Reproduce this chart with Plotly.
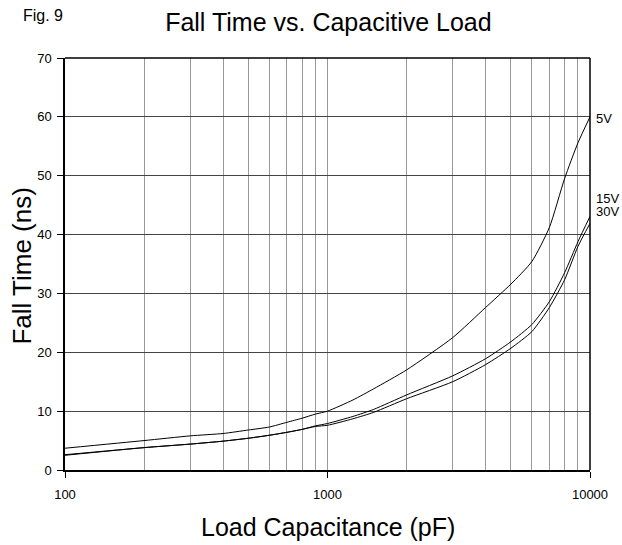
import plotly.graph_objects as go

cap_pf = [100, 200, 300, 400, 500, 600, 700, 800, 900, 1000, 1250, 1500, 2000, 3000, 4000, 5000, 6000, 7000, 8000, 9000, 10000]
fall_5v = [3.7, 5.0, 5.8, 6.2, 6.8, 7.3, 8.1, 8.8, 9.5, 10.0, 11.9, 13.8, 17.0, 22.5, 27.6, 31.6, 35.4, 41.2, 49.5, 55.6, 60.0]
fall_15v = [2.6, 3.8, 4.4, 4.9, 5.4, 5.9, 6.4, 6.9, 7.5, 7.9, 9.1, 10.3, 12.75, 16.0, 18.9, 21.8, 24.7, 28.6, 33.5, 38.8, 43.1]
fall_30v = [2.5, 3.8, 4.4, 4.9, 5.4, 5.9, 6.4, 6.9, 7.4, 7.6, 8.7, 9.8, 12.1, 15.0, 17.9, 20.7, 23.5, 27.6, 32.3, 38.0, 41.9]
series_names = ["5V", "15V", "30V"]
label_levels = [59.8, 46.1, 43.9]
x_tick_vals = [100, 1000, 10000]
x_tick_text = ["100", "1000", "10000"]

FONT = "Liberation Sans, Arial, sans-serif"

fig = go.Figure()
for name, ys in zip(series_names, [fall_5v, fall_15v, fall_30v]):
    fig.add_trace(go.Scatter(x=cap_pf, y=ys, mode="lines", name=name,
                             line=dict(color="black", width=1, shape="spline", smoothing=0.6)))

for name, lv in zip(series_names, label_levels):
    fig.add_annotation(x=4, y=lv, xref="x", yref="y", text=name, showarrow=False,
                       xanchor="left", yanchor="middle", xshift=4,
                       font=dict(family=FONT, size=13, color="black"))

fig.add_annotation(x=-0.083, y=1.102, xref="paper", yref="paper", text="Fig. 9", showarrow=False,
                   xanchor="left", yanchor="middle",
                   font=dict(family=FONT, size=16, color="black"))

fig.add_annotation(x=0.5, y=-0.138, xref="paper", yref="paper", text="Load Capacitance (pF)",
                   showarrow=False, xanchor="center", yanchor="middle",
                   font=dict(family=FONT, size=25, color="black"))
fig.add_annotation(x=-0.082, y=0.496, xref="paper", yref="paper", text="Fall Time (ns)",
                   showarrow=False, xanchor="center", yanchor="middle", textangle=-90,
                   font=dict(family=FONT, size=26, color="black"))

fig.update_layout(
    width=622, height=545,
    margin=dict(l=65, r=32, t=58, b=75),
    paper_bgcolor="white", plot_bgcolor="white",
    showlegend=False,
    title=dict(text="Fall Time vs. Capacitive Load", x=0.528, xanchor="center", y=0.96, yanchor="middle",
               font=dict(family=FONT, size=25, color="black")),
    font=dict(family=FONT, size=13, color="black"),
)

fig.update_xaxes(
    type="log", range=[2, 4], automargin=False,
    tickvals=x_tick_vals, ticktext=x_tick_text,
    ticks="outside", ticklen=6, tickcolor="black", ticklabelstandoff=6,
    showline=True, linecolor="black", linewidth=1.5, mirror=False,
    showgrid=True, gridcolor="#999999", gridwidth=1,
    minor=dict(dtick="D1", showgrid=True, gridcolor="#999999", gridwidth=1, ticks=""),
    tickfont=dict(family=FONT, size=13, color="black"),
    zeroline=False,
)
fig.update_yaxes(
    range=[0, 70], dtick=10, automargin=False,
    ticks="outside", ticklen=6, tickcolor="black", ticklabelstandoff=3,
    showline=True, linecolor="black", linewidth=1.5,
    showgrid=True, gridcolor="#444444", gridwidth=1,
    tickfont=dict(family=FONT, size=13, color="black"),
    zeroline=False,
)

fig.add_shape(type="line", xref="paper", yref="paper", x0=1, x1=1, y0=0, y1=1,
              line=dict(color="black", width=1.5))
fig.add_shape(type="line", xref="paper", yref="paper", x0=0, x1=1, y0=1, y1=1,
              line=dict(color="black", width=1.5))

fig.write_html("out.html", config={"displayModeBar": False},
               post_script="document.body.style.margin='0';document.body.style.overflow='hidden';")
